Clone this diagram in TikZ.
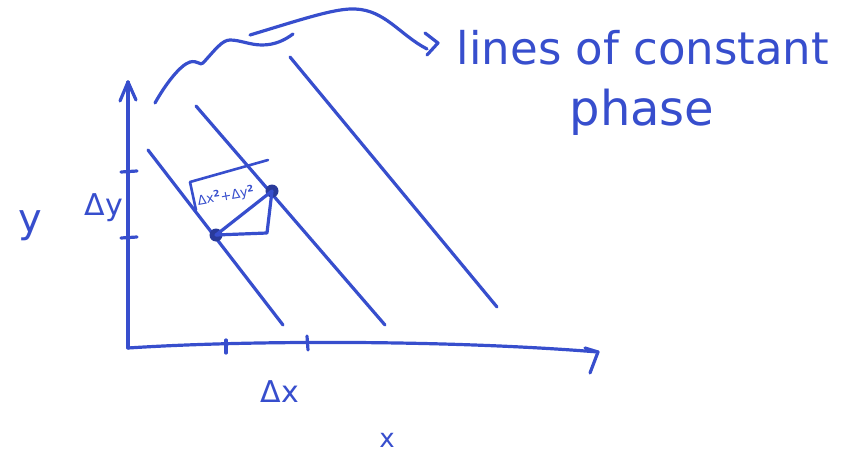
\documentclass[tikz,border=0pt]{standalone}
\usepackage{fontspec}
\setmainfont{DejaVu Sans}
\definecolor{ink}{RGB}{55,78,205}
\begin{document}
\begin{tikzpicture}[x=1pt,y=-1pt,
  pen/.style={draw=ink,line width=3.2pt,line cap=round,line join=round},
  lbl/.style={text=ink,inner sep=0pt},
  dot/.style={circle,fill=ink!75!black,inner sep=0pt,minimum size=13pt}]
\useasboundingbox (0,0) rectangle (860,455);
% axes
\coordinate (O) at (128,348);
\coordinate (ytop) at (128,82);
\coordinate (xend) at (598,352);
\draw[pen] (O) -- (ytop);
\coordinate (ya1) at (120,101); \coordinate (ya2) at (136,100);
\draw[pen] (ya1) -- (ytop) -- (ya2);
\draw[pen] (O) .. controls (250,340) and (450,340) .. (xend);
\coordinate (xa1) at (585,348); \coordinate (xa2) at (590,373);
\draw[pen] (xa1) -- (xend) -- (xa2);
% ticks
\coordinate (ty1a) at (121,172); \coordinate (ty1b) at (137,171);
\coordinate (ty2a) at (121,238); \coordinate (ty2b) at (137,237);
\draw[pen] (ty1a) -- (ty1b);
\draw[pen] (ty2a) -- (ty2b);
\coordinate (tx1a) at (226,340); \coordinate (tx1b) at (226,353);
\coordinate (tx2a) at (307,336); \coordinate (tx2b) at (308,350);
\draw[pen] (tx1a) -- (tx1b);
\draw[pen] (tx2a) -- (tx2b);
% lines of constant phase
\coordinate (l1a) at (148,150); \coordinate (l1b) at (283,325);
\coordinate (l2a) at (196,106); \coordinate (l2b) at (385,325);
\coordinate (l3a) at (290,57);  \coordinate (l3b) at (497,307);
\draw[pen] (l1a) -- (l1b);
\draw[pen] (l2a) -- (l2b);
\draw[pen] (l3a) -- (l3b);
% triangle
\node[dot] (p1) at (216,235) {};
\node[dot] (p2) at (272,191) {};
\coordinate (c) at (267,233);
\draw[pen] (p1.center) -- (p2.center);
\draw[pen] (p1.center) -- (c) -- (p2.center);
% radical
\coordinate (r0) at (196,210); \coordinate (r1) at (190,182); \coordinate (r2) at (268,160);
\draw[pen,line width=2.6pt] (r0) -- (r1) -- (r2);
\node[lbl,font=\fontsize{13}{13}\selectfont,rotate=10] (rad) at (226,196) {Δx$^{\mathbf 2}$+Δy$^{\mathbf 2}$};
% wavy bracket and arrow
\draw[pen] (155,103) .. controls (165,85) and (180,65) .. (190,62)
  .. controls (198,60) and (200,66) .. (203,63)
  .. controls (215,50) and (222,40) .. (230,40)
  .. controls (240,40) and (250,45) .. (262,45)
  .. controls (275,45) and (285,40) .. (293,34);
\coordinate (b0) at (250,35);
\coordinate (b3) at (427,49);
\draw[pen] (b0) .. controls (300,20) and (335,8) .. (355,9)
  .. controls (385,10) and (400,35) .. (b3);
\coordinate (h1) at (425,33); \coordinate (h2) at (438,43); \coordinate (h3) at (427,55);
\draw[pen] (h1) -- (h2) -- (h3);
% labels
\node[lbl,font=\fontsize{45}{45}\selectfont] (t1) at (643,48) {lines of constant};
\node[lbl,font=\fontsize{48}{48}\selectfont] (t2) at (642,112) {phase};
\node[lbl,font=\fontsize{40}{40}\selectfont] (ly) at (30,226) {y};
\node[lbl,font=\fontsize{30}{30}\selectfont] (ldy) at (104,208) {Δy};
\node[lbl,font=\fontsize{30}{30}\selectfont] (ldx) at (280,392) {Δx};
\node[lbl,font=\fontsize{26}{26}\selectfont] (lx) at (387,440) {x};
\end{tikzpicture}
\end{document}
